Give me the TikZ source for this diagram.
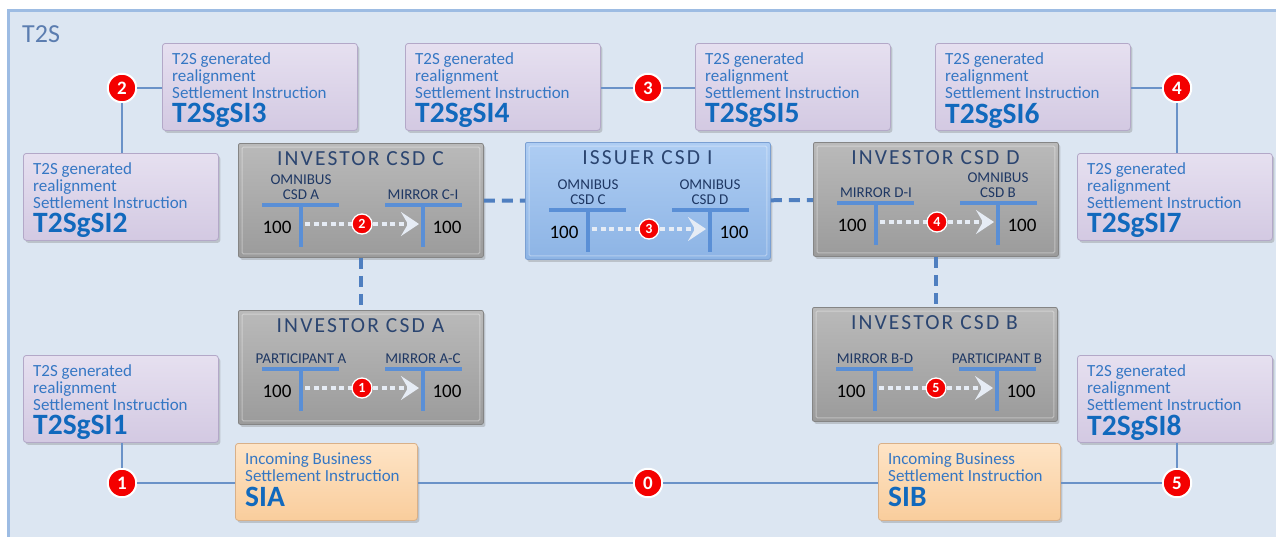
\documentclass[tikz,border=0pt]{standalone}
\usepackage{fontspec}
\setmainfont{Carlito}
\usetikzlibrary{arrows.meta,shadows,calc}
\definecolor{frameline}{HTML}{9DBCE3}
\definecolor{framefill}{HTML}{DCE6F2}
\definecolor{connc}{HTML}{6A92C8}
\definecolor{dashc}{HTML}{4F7FC0}
\definecolor{tbarc}{HTML}{5A8FD6}
\definecolor{sitxt}{HTML}{3577C4}
\definecolor{sibig}{HTML}{1169BD}
\definecolor{navy}{HTML}{1F3864}
\definecolor{titlec}{HTML}{2B4570}
\definecolor{t2sc}{HTML}{5B7DB0}
\definecolor{numred}{HTML}{F40000}
\definecolor{dotc}{HTML}{E6ECF5}
\definecolor{purtop}{HTML}{E6E0F0}
\definecolor{purbot}{HTML}{D3C9E2}
\definecolor{purdraw}{HTML}{B3A8C8}
\definecolor{peachtop}{HTML}{FEE4C6}
\definecolor{peachbot}{HTML}{F9CD9C}
\definecolor{peachdraw}{HTML}{D9B088}
\definecolor{graytop}{HTML}{BABABA}
\definecolor{graybot}{HTML}{9B9B9B}
\definecolor{graydraw}{HTML}{858585}
\definecolor{bluetop}{HTML}{AECDF3}
\definecolor{bluebot}{HTML}{8DB4E5}
\definecolor{bluedraw}{HTML}{7A9FD2}

\tikzset{
  every node/.style={inner sep=0pt},
  shadowed/.style={drop shadow={shadow xshift=2pt,shadow yshift=-2.5pt,opacity=0.35}},
  sibox/.style={shadowed,draw=purdraw,line width=0.8pt,top color=purtop,bottom color=purbot,
    rounded corners=3pt,minimum width=195pt,minimum height=87pt,anchor=north west},
  sitext/.style={anchor=north west,align=left,text=sitxt,font=\fontsize{17}{17}\selectfont},
  inbox/.style={shadowed,draw=peachdraw,line width=0.8pt,top color=peachtop,bottom color=peachbot,
    rounded corners=3pt,minimum width=182pt,minimum height=77pt,anchor=north west},
  csdbox/.style={shadowed,line width=0.8pt,rounded corners=2pt,minimum width=245pt,anchor=north west},
  graycsd/.style={draw=graydraw,top color=graytop,bottom color=graybot},
  bluecsd/.style={draw=bluedraw,top color=bluetop,bottom color=bluebot},
  bevel/.style={draw=white,opacity=0.35,line width=1pt,rounded corners=1.5pt},
  csdtitle/.style={anchor=base,text=titlec,font=\fontsize{21.5}{21.5}\selectfont\addfontfeatures{LetterSpace=10}},
  acctlbl/.style={anchor=south,align=center,text=navy,font=\fontsize{15}{15}\selectfont},
  amount/.style={anchor=base,text=black,font=\fontsize{19}{19}\selectfont},
  tbar/.style={draw=tbarc,line width=3.5pt},
  dotarrow/.style={draw=dotc,line width=4pt,dash pattern=on 5pt off 3.5pt,
    -{Stealth[length=18pt,width=24pt,inset=7pt,fill=dotc]}},
  bignum/.style={circle,fill=numred,draw=white,line width=2pt,minimum size=28.5pt,text=white,
    font=\bfseries\fontsize{19}{19}\selectfont},
  smallnum/.style={circle,fill=numred,draw=white,line width=1.3pt,minimum size=20pt,text=white,
    font=\bfseries\fontsize{14}{14}\selectfont},
  connline/.style={draw=connc,line width=1.5pt},
  dashline/.style={draw=dashc,line width=4pt,dash pattern=on 11pt off 7pt},
}

\newcommand\bigsi[1]{{\fontsize{29.5}{29.5}\selectfont\bfseries\color{sibig}#1}}
\newcommand\sinode[4]{%
  \node[sibox] (#1) at (#2,#3) {};
  \node[sitext] (#1-x) at ($(#1.north west)+(10,9)$)
    {T2S generated\\realignment\\Settlement Instruction\\[4pt]\bigsi{#4}};}
\newcommand\csdbar{62}
\newcommand\csdunit[9]{%
  \begin{scope}[shift={(#2,#3)}]
    \node[csdbox,#5,minimum height=#4] (#1) at (0,0) {};
    \draw[bevel] ($(#1.north west)+(4,4)$) rectangle ($(#1.south east)+(-4,-4)$);
    \node[csdtitle] (#1-t) at (122.5,22) {#6};
    \draw[tbar] (24,\csdbar) -- (101,\csdbar);
    \draw[tbar] (63,\csdbar) -- (63,\csdbar+42);
    \draw[tbar] (147,\csdbar) -- (224,\csdbar);
    \draw[tbar] (185,\csdbar) -- (185,\csdbar+42);
    \node[acctlbl] (#1-la) at (63,\csdbar-5) {#7};
    \node[acctlbl] (#1-lb) at (185,\csdbar-5) {#8};
    \node[amount] (#1-va) at (39,\csdbar+28) {100};
    \node[amount] (#1-vb) at (209,\csdbar+28) {100};
    \coordinate (#1-s1) at (67,\csdbar+19);
    \coordinate (#1-s2) at (181,\csdbar+19);
    \draw[dotarrow] (#1-s1) -- (#1-s2);
    \node[smallnum] (#1-n) at ($(#1-s1)!0.5!(#1-s2)$) {#9};
  \end{scope}}

\begin{document}
\begin{tikzpicture}[x=1pt,y=-1pt]
\useasboundingbox (0,0) rectangle (1276,536);
\fill[white] (0,0) rectangle (1276,536);
\draw[draw=frameline,line width=3pt,fill=framefill] (8,10) rectangle (1300,560);
\node[anchor=base west,text=t2sc,font=\fontsize{26}{26}\selectfont] (t2s) at (22,42) {T2S};

% generated settlement instructions
\sinode{si3}{162}{43}{T2SgSI3}
\sinode{si4}{405}{43}{T2SgSI4}
\sinode{si5}{695}{43}{T2SgSI5}
\sinode{si6}{935}{43}{T2SgSI6}
\sinode{si2}{23}{153}{T2SgSI2}
\sinode{si7}{1077}{153}{T2SgSI7}
\sinode{si1}{23}{355}{T2SgSI1}
\sinode{si8}{1077}{355}{T2SgSI8}

% incoming business instructions
\node[inbox] (sia) at (235,443) {};
\node[sitext] (sia-x) at ($(sia.north west)+(10,10)$) {Incoming Business\\Settlement Instruction\\[4pt]\bigsi{SIA}};
\node[inbox] (sib) at (878,443) {};
\node[sitext] (sib-x) at ($(sib.north west)+(10,10)$) {Incoming Business\\Settlement Instruction\\[4pt]\bigsi{SIB}};

% CSDs
\renewcommand\csdbar{62}
\csdunit{csdC}{238}{143}{114pt}{graycsd}{INVESTOR CSD C}{OMNIBUS\\CSD A}{MIRROR C-I}{2}
\renewcommand\csdbar{68}
\csdunit{csdI}{525}{142}{117pt}{bluecsd}{ISSUER CSD I}{OMNIBUS\\CSD C}{OMNIBUS\\CSD D}{3}
\renewcommand\csdbar{61}
\csdunit{csdD}{813}{142}{114pt}{graycsd}{INVESTOR CSD D}{MIRROR D-I}{OMNIBUS\\CSD B}{4}
\renewcommand\csdbar{59}
\csdunit{csdA}{238}{310}{114pt}{graycsd}{INVESTOR CSD A}{PARTICIPANT A}{MIRROR A-C}{1}
\renewcommand\csdbar{62}
\csdunit{csdB}{812}{307}{114pt}{graycsd}{INVESTOR CSD B}{MIRROR B-D}{PARTICIPANT B}{5}

% step numbers
\node[bignum] (c2) at (122,88) {2};
\node[bignum] (c3) at (648,88) {3};
\node[bignum] (c4) at (1177,88) {4};
\node[bignum] (c1) at (122,483) {1};
\node[bignum] (c0) at (648,483) {0};
\node[bignum] (c5) at (1177,483) {5};

% connectors
\draw[connline] (c2) -- (c2 -| si3.west);
\draw[connline] (c2) -- (c2 |- si2.north);
\draw[connline] (si4.east |- c3) -- (c3);
\draw[connline] (c3) -- (c3 -| si5.west);
\draw[connline] (si6.east |- c4) -- (c4);
\draw[connline] (c4) -- (c4 |- si7.north);
\draw[connline] (c1) -- (c1 |- si1.south);
\draw[connline] (c1) -- (c1 -| sia.west);
\draw[connline] (sia.east |- c0) -- (c0);
\draw[connline] (c0) -- (c0 -| sib.west);
\draw[connline] (sib.east |- c5) -- (c5);
\draw[connline] (c5) -- (c5 |- si8.south);

\draw[dashline] (csdC) -- (csdI);
\draw[dashline] (csdI) -- (csdD);
\draw[dashline] (csdC.south) -- (csdC.south |- csdA.north);
\draw[dashline] (csdD.south) -- (csdD.south |- csdB.north);
\end{tikzpicture}
\end{document}
